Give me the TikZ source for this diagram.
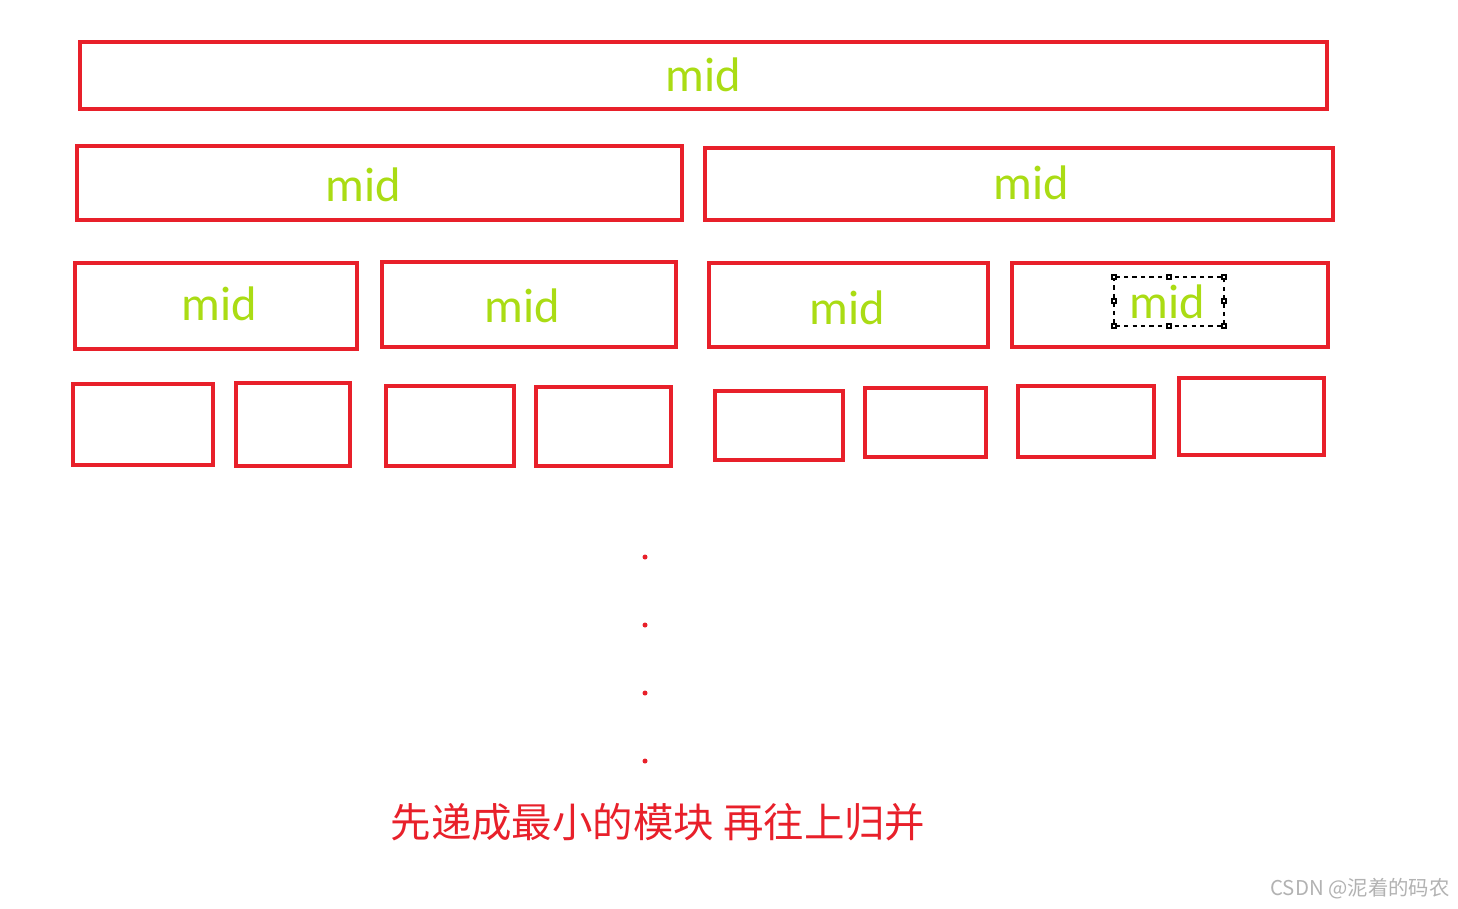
\documentclass[tikz,border=0pt]{standalone}
\usepackage{fontspec}
\setmainfont{Carlito}
\newfontfamily\cjk{Noto Sans CJK SC}
\definecolor{bred}{HTML}{E8202A}
\definecolor{mgreen}{HTML}{AADC14}
\begin{document}
\begin{tikzpicture}[x=0.01cm,y=-0.01cm,
  bx/.style={draw=bred,line width=1.2pt},
  lbl/.style={text=mgreen,font=\fontsize{13.8}{14}\selectfont}]
\useasboundingbox (0,0) rectangle (1458,908);
\foreach \n/\a/\b/\c/\d in {r1/80/42/1327/109, a1/77/146/682/220, a2/705/148/1333/220,
 b1/75/263/357/349, b2/382/262/676/347, b3/709/263/988/347, b4/1012/263/1328/347,
 c1/73/384/213/465, c2/236/383/350/466, c3/386/386/514/466, c4/536/387/671/466,
 c5/715/391/843/460, c6/865/388/986/457, c7/1018/386/1154/457, c8/1179/378/1324/455}
  \draw[bx] (\a,\b) rectangle (\c,\d) coordinate (\n);
\node[lbl] (t1) at (703,75) {mid};
\node[lbl] (t2) at (363,185) {mid};
\node[lbl] (t3) at (1031,183) {mid};
\node[lbl] (t4) at (219,304) {mid};
\node[lbl] (t5) at (522,306) {mid};
\node[lbl] (t6) at (847,308) {mid};
\node[lbl] (t7) at (1167,302) {mid};
\draw[line width=0.3pt,dash pattern=on 1.2pt off 1.2pt] (1114,277) rectangle (1224,326);
\foreach \x/\y in {1114/277,1169/277,1224/277,1114/301,1224/301,1114/326,1169/326,1224/326}
  \draw[line width=0.3pt,fill=white] (\x-2,\y-2) rectangle (\x+2,\y+2);
\foreach \y in {557,625,693,761} \fill[bred] (645,\y) circle (2.5);
\node[text=bred,font=\cjk\fontsize{11.5}{12}\selectfont] (cap) at (658,822) {先递成最小的模块 再往上归并};
\node[text=black!30,font=\cjk\fontsize{5.8}{6}\selectfont] (wm) at (1360,889) {CSDN @泥着的码农};
\end{tikzpicture}
\end{document}
